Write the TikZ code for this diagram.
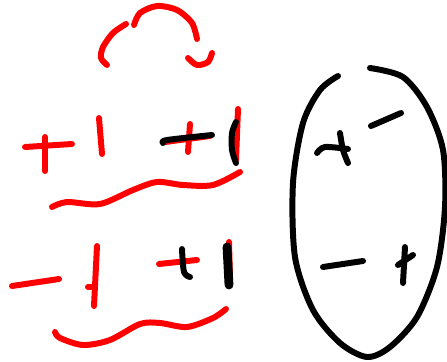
\documentclass[tikz,border=0pt]{standalone}
\usepackage{xcolor}
\usepackage{tikz}
\definecolor{inkred}{RGB}{255,0,0}
\definecolor{inkblack}{RGB}{0,0,0}
\tikzset{
  redink/.style={draw=inkred, line width=3.4pt, line cap=round, line join=round},
  blackink/.style={draw=inkblack, line width=3.4pt, line cap=round, line join=round},
  heavyink/.style={draw=inkblack, line width=5pt, line cap=round, line join=round}
}

\begin{document}
\begin{tikzpicture}[x=0.02cm, y=-0.02cm]
  \useasboundingbox (0,0) rectangle (447,362);

  % ── loop above the first row ──────────────────────────────────────────────
  \draw[redink] plot[smooth] coordinates {(107,65) (101,58) (103,47) (113,33) (126,24)};
  \draw[redink] plot[smooth] coordinates {(134,25) (140,13) (157,6) (177,10) (192,23) (197,39)};
  \draw[redink] plot[smooth] coordinates {(188,58) (197,65) (208,62) (212,53)};

  % ── first row: + 1  + 1 ───────────────────────────────────────────────────
  \draw[redink] (25,147) -- (72,144);
  \draw[redink] (45,137) -- (45,171);
  \draw[redink] (99,118) -- (102,154);
  \draw[redink] (165,142) -- (210,136);
  \draw[redink] (190,124) -- (188,152);
  \draw[blackink] plot[smooth] coordinates {(163,143) (167,140) (212,135)};
  \draw[redink] (238,109) -- (236,160);
  \draw[blackink] plot[smooth] coordinates {(236,122) (232,133) (232,150) (236,163)};

  % wave between the rows
  \draw[redink] plot[smooth] coordinates {(52,207) (67,202) (100,204) (133,190)
    (157,182) (183,185) (213,185) (240,172)};

  % ── second row: - 1  + 1 ──────────────────────────────────────────────────
  \draw[redink] (12,286) -- (59,279);
  \draw[redink] (97,246) -- (94,306);
  \draw[redink] (88,287) -- (94,287);
  \draw[redink] (159,264) -- (197,260);
  \draw[blackink] plot[smooth] coordinates {(182,249) (184,272) (190,277)};
  \draw[redink] (229,242) -- (230,280);
  \draw[heavyink] (227,247) -- (229,285);

  % wave under the second row
  \draw[redink] plot[smooth] coordinates {(55,332) (60,338) (83,345) (110,340)
    (140,324) (160,323) (187,327) (213,318) (226,309)};

  % ── oval with signs ───────────────────────────────────────────────────────
  \draw[blackink] plot[smooth] coordinates {(338,76) (320,90) (303,123) (293,183)
    (295,257) (313,310) (340,343) (367,357) (390,347) (417,317) (437,267)
    (445,207) (443,150) (427,107) (403,77) (370,68)};
  \draw[blackink] (371,126) -- (401,113);
  \draw[blackink] plot[smooth] coordinates {(317,153) (325,147) (348,149)};
  \draw[blackink] plot[smooth] coordinates {(340,133) (343,150) (348,163)};
  \draw[blackink] (323,267) -- (363,261);
  \draw[blackink] (405,247) -- (403,283);
  \draw[blackink] (398,265) -- (413,255);
\end{tikzpicture}
\end{document}
